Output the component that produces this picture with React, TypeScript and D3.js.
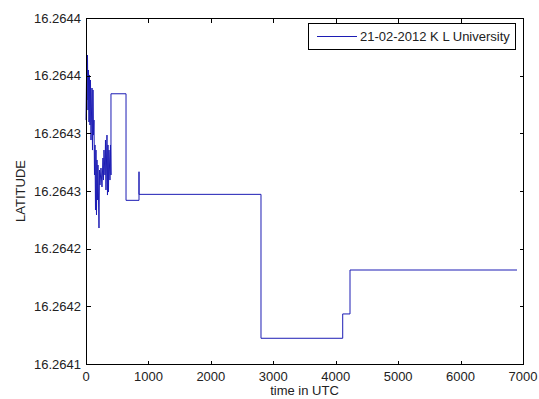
import React from 'react';
import * as d3 from 'd3';

// time in UTC (x) and latitude (y)
const timeUtc = [
  0, 8, 16, 24, 32, 40, 48, 56, 64, 72, 80, 96, 104, 112, 120, 128, 136, 144, 152, 160,
  168, 176, 184, 192, 208, 216, 224, 240, 256, 272, 280, 288, 304, 312, 320, 336, 344, 352,
  360, 368, 384, 392, 400,
  400, 641, 641, 849, 849, 849, 2803, 2803, 4112, 4112, 4229, 4229, 6904,
];

const latitude = [
  16.2643115, 16.2643462, 16.2643289, 16.2643679, 16.2643202, 16.2643549, 16.2643098, 16.2643506,
  16.2643072, 16.2643462, 16.2642942, 16.2643393, 16.2642855, 16.2643376, 16.2642985, 16.2643115,
  16.2642639, 16.2642899, 16.2642335, 16.2642855, 16.2642292, 16.2642769, 16.2642422, 16.2642725,
  16.2642179, 16.2642682, 16.2642552, 16.2642699, 16.2642535, 16.2642786, 16.2642595, 16.2642855,
  16.2642639, 16.2642942, 16.2642509, 16.2642985, 16.2642465, 16.2642899, 16.2642491, 16.2642855,
  16.2642595, 16.2642899, 16.2642639,
  16.2643343, 16.2643343, 16.2642419, 16.2642419, 16.2642667, 16.2642471, 16.2642471, 16.2641223,
  16.2641223, 16.2641434, 16.2641434, 16.2641815, 16.2641815,
];

const xTicks = [0, 1000, 2000, 3000, 4000, 5000, 6000, 7000];
const yTicks = [16.2641, 16.26415, 16.2642, 16.26425, 16.2643, 16.26435, 16.2644];
const yTickLabels = ['16.2641', '16.2642', '16.2642', '16.2643', '16.2643', '16.2644', '16.2644'];
const legendLabel = '21-02-2012 K L University';

export default function App() {
  const width = 539;
  const height = 399;
  const left = 86, right = 523, top = 18, bottom = 364;

  const x = d3.scaleLinear().domain([0, 7000]).range([left, right]);
  const y = d3.scaleLinear().domain([16.2641, 16.2644]).range([bottom, top]);

  const points = timeUtc.map((t, i) => [t, latitude[i]] as [number, number]);
  const line = d3.line<[number, number]>()
    .x(d => x(d[0]))
    .y(d => y(d[1]));

  const font = 'Liberation Sans, Arial, Helvetica, sans-serif';
  const tickLen = 4;

  return (
    <svg width={width} height={height}
      style={{ position: 'absolute', left: 0, top: 0, background: '#fff' }}
      fontFamily={font} fontSize={13}>
      <rect x={0} y={0} width={width} height={height} fill="#fff" />

      {/* data */}
      <path d={line(points) || ''} fill="none" stroke="#1c1cb4" strokeWidth={1} />

      {/* box */}
      <rect x={left + 0.5} y={top + 0.5} width={right - left} height={bottom - top}
        fill="none" stroke="#000" strokeWidth={1} shapeRendering="crispEdges" />

      {/* x ticks */}
      {xTicks.map(t => (
        <g key={'x' + t} shapeRendering="crispEdges">
          <line x1={x(t) + 0.5} x2={x(t) + 0.5} y1={bottom + 0.5} y2={bottom + 0.5 - tickLen} stroke="#000" />
          <line x1={x(t) + 0.5} x2={x(t) + 0.5} y1={top + 0.5} y2={top + 0.5 + tickLen} stroke="#000" />
          <text x={x(t)} y={381} textAnchor="middle" fill="#222">{t}</text>
        </g>
      ))}

      {/* y ticks */}
      {yTicks.map((v, i) => (
        <g key={'y' + i} shapeRendering="crispEdges">
          <line x1={left + 0.5} x2={left + 0.5 + tickLen} y1={y(v) + 0.5} y2={y(v) + 0.5} stroke="#000" />
          <line x1={right + 0.5} x2={right + 0.5 - tickLen} y1={y(v) + 0.5} y2={y(v) + 0.5} stroke="#000" />
          <text x={81} y={y(v) + 4.5} textAnchor="end" fill="#222">{yTickLabels[i]}</text>
        </g>
      ))}

      {/* axis labels */}
      <text x={(left + right) / 2} y={395} textAnchor="middle" fill="#222">time in UTC</text>
      <text transform={`translate(25, ${(top + bottom) / 2}) rotate(-90)`} textAnchor="middle" fill="#222">LATITUDE</text>

      {/* legend */}
      <rect x={308.5} y={23.5} width={207} height={26} fill="#fff" stroke="#000" shapeRendering="crispEdges" />
      <line x1={317} x2={357} y1={36.5} y2={36.5} stroke="#1c1cb4" />
      <text x={360} y={41} fill="#222">{legendLabel}</text>
    </svg>
  );
}
